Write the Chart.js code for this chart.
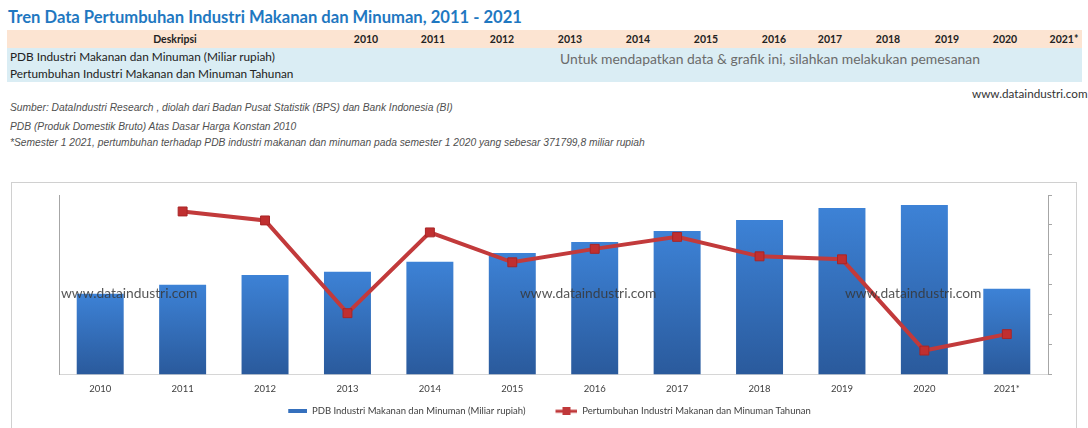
<!DOCTYPE html>
<html>
<head>
<meta charset="utf-8">
<script src="https://cdn.jsdelivr.net/npm/chart.js@4/dist/chart.umd.min.js"></script>
<style>
  body { margin: 0; width: 1088px; height: 428px; overflow: hidden; background: #fff; position: relative; font-family: Lato, "Open Sans", sans-serif; }
  .abs { position: absolute; white-space: nowrap; }
  #title { left: 8px; top: 7px; font-size: 16.6px; font-weight: bold; color: #1f78c1; }
  #hdr { left: 7px; top: 30px; width: 1075px; height: 18px; background: #fce4d2; }
  #rows { left: 7px; top: 48px; width: 1075px; height: 34px; background: #daedf4; }
  .th { font-size: 10.5px; font-weight: bold; color: #222; top: 33px; transform: translateX(-50%); }
  .td { font-size: 11.8px; color: #222; left: 10px; }
  #order { left: 560px; top: 50px; font-size: 13.9px; color: #6b6b6b; }
  #site { left: 972px; top: 86px; font-size: 11.7px; color: #333; }
  .note { left: 10px; font-size: 10.25px; font-style: italic; color: #505050; font-family: "Liberation Sans", Arial, sans-serif; }
  #frame { left: 11px; top: 182px; width: 1064px; height: 260px; border: 1px solid #d0d0d0; }
  #wrap { position: absolute; left: 11px; top: 182px; width: 1066px; height: 250px; }
  .wm { font-size: 13.8px; color: rgba(55,55,55,0.85); top: 284px; }
</style>
</head>
<body>
<div class="abs" id="title">Tren Data Pertumbuhan Industri Makanan dan Minuman, 2011 - 2021</div>
<div class="abs" id="hdr"></div>
<div class="abs" id="rows"></div>
<div class="abs th" style="left:175px">Deskripsi</div>
<div id="yearHeads"></div>
<div class="abs td" style="top:49px">PDB Industri Makanan dan Minuman (Miliar rupiah)</div>
<div class="abs td" style="top:66px">Pertumbuhan Industri Makanan dan Minuman Tahunan</div>
<div class="abs" id="order">Untuk mendapatkan data &amp; grafik ini, silahkan melakukan pemesanan</div>
<div class="abs" id="site">www.dataindustri.com</div>
<div class="abs note" style="top:102px">Sumber: DataIndustri Research , diolah dari Badan Pusat Statistik (BPS) dan Bank Indonesia (BI)</div>
<div class="abs note" style="top:121px">PDB (Produk Domestik Bruto) Atas Dasar Harga Konstan 2010</div>
<div class="abs note" style="top:137px">*Semester 1 2021, pertumbuhan terhadap PDB industri makanan dan minuman pada semester 1 2020 yang sebesar 371799,8 miliar rupiah</div>
<div class="abs" id="frame"></div>
<div id="wrap"><canvas id="chart"></canvas></div>
<div class="abs wm" style="left:61px">www.dataindustri.com</div>
<div class="abs wm" style="left:520px">www.dataindustri.com</div>
<div class="abs wm" style="left:845px">www.dataindustri.com</div>
<script>
// categories and values
const years = ['2010', '2011', '2012', '2013', '2014', '2015', '2016', '2017', '2018', '2019', '2020', '2021*'];
const pdb = [360000, 400000, 444000, 458000, 502000, 542000, 591000, 640000, 689000, 742000, 755000, 382000];
const growth = [null, 10.9, 10.3, 4.1, 9.5, 7.5, 8.4, 9.2, 7.9, 7.7, 1.6, 2.7];
const headerX = [366, 433, 502, 570, 638, 706, 774, 830, 888, 947, 1005, 1064];

// table header years
var heads = document.getElementById('yearHeads');
years.forEach(function (y, i) {
  var d = document.createElement('div');
  d.className = 'abs th';
  d.style.left = headerX[i] + 'px';
  d.textContent = y;
  heads.appendChild(d);
});

// legend symbols (42px wide, symbol on the right, blank on the left as item gap)
function barSymbol() {
  var c = document.createElement('canvas');
  c.width = 42; c.height = 4;
  var g = c.getContext('2d');
  g.fillStyle = '#3570bd';
  g.fillRect(23, 0, 19, 4);
  return c;
}
function lineSymbol() {
  var c = document.createElement('canvas');
  c.width = 42; c.height = 8;
  var g = c.getContext('2d');
  g.fillStyle = '#c0383a';
  g.fillRect(20, 2.5, 22, 3);
  g.fillRect(27, 0, 8, 8);
  return c;
}

function barFill(c) {
  var chart = c.chart;
  var area = chart.chartArea;
  if (!area || c.raw == null) return '#3570bd';
  var top = chart.scales.y.getPixelForValue(c.raw);
  var g = chart.ctx.createLinearGradient(0, top, 0, area.bottom);
  g.addColorStop(0, '#3d82d6');
  g.addColorStop(1, '#2a5a9c');
  return g;
}

var ctx = document.getElementById('chart');
new Chart(ctx, {
  data: {
    labels: years,
    datasets: [{
      type: 'line',
      label: 'Pertumbuhan Industri Makanan dan Minuman Tahunan',
      data: growth,
      yAxisID: 'y1',
      borderColor: '#c23a3b',
      borderWidth: 4,
      pointStyle: 'rect',
      pointRadius: 6.3,
      pointBackgroundColor: '#c02f30',
      pointBorderColor: '#a82526',
      pointBorderWidth: 1,
      order: 0
    }, {
      type: 'bar',
      label: 'PDB Industri Makanan dan Minuman (Miliar rupiah)',
      data: pdb,
      yAxisID: 'y',
      backgroundColor: barFill,
      categoryPercentage: 1,
      barPercentage: 0.57,
      order: 1
    }]
  },
  options: {
    responsive: true,
    maintainAspectRatio: false,
    animation: false,
    layout: { padding: { top: 13, left: 0, right: 12, bottom: 6 } },
    plugins: {
      tooltip: { enabled: false },
      legend: {
        position: 'bottom',
        labels: {
          usePointStyle: true,
          pointStyleWidth: 42,
          padding: 10,
          color: '#404040',
          font: { family: 'Lato', size: 9.5 },
          generateLabels: function (chart) {
            return [
              { text: chart.data.datasets[1].label, pointStyle: barSymbol(), fillStyle: '#3570bd', strokeStyle: '#3570bd', lineWidth: 0, datasetIndex: 1, fontColor: '#404040' },
              { text: chart.data.datasets[0].label, pointStyle: lineSymbol(), fillStyle: '#c0383a', strokeStyle: '#c0383a', lineWidth: 0, datasetIndex: 0, fontColor: '#404040' }
            ];
          }
        }
      }
    },
    scales: {
      x: {
        grid: { display: false, drawTicks: false },
        border: { display: true, color: '#d6d6d6' },
        ticks: { color: '#404040', font: { family: 'Lato', size: 9.5 }, padding: 9 },
        afterFit: function (s) { s.height = 22; }
      },
      y: {
        position: 'left',
        min: 0,
        max: 800000,
        grid: { display: false },
        border: { display: true, color: '#a6a6a6' },
        ticks: { display: false },
        afterFit: function (s) { s.width = 48; }
      },
      y1: {
        position: 'right',
        min: 0,
        max: 12,
        ticks: { display: false, stepSize: 2 },
        grid: { drawOnChartArea: false, drawTicks: true, tickLength: 4, color: '#a6a6a6' },
        border: { display: true, color: '#a6a6a6' },
        afterFit: function (s) { s.width = 17; }
      }
    }
  }
});
</script>
</body>
</html>
